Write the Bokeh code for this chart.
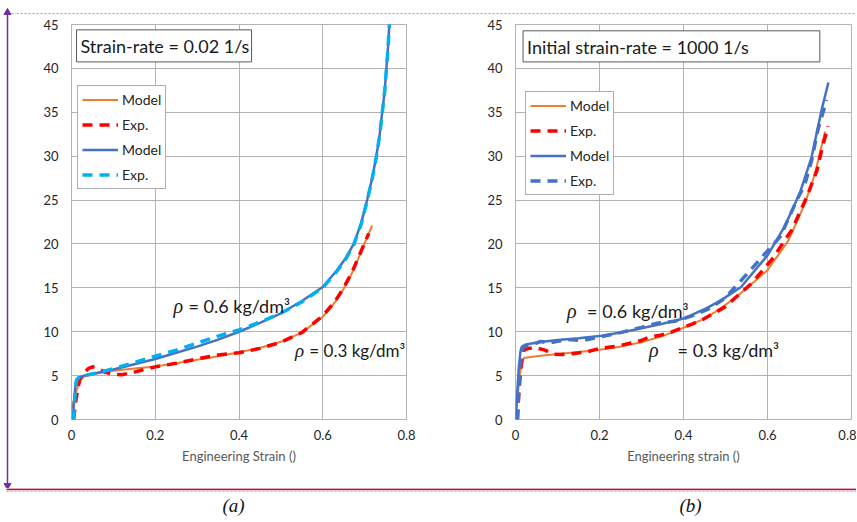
from bokeh.plotting import figure
from bokeh.models import Range1d, FixedTicker, Legend, LegendItem, Label
from bokeh.layouts import row, column
from bokeh.embed import file_html
from bokeh.resources import INLINE
from bokeh.core.properties import value

# ---------------- data ----------------
x_ticks = [0, 0.2, 0.4, 0.6, 0.8]
y_ticks = [0, 5, 10, 15, 20, 25, 30, 35, 40, 45]

# (a) strain-rate 0.02 1/s
a_model03_x = [-0.008, 0.0, 0.01, 0.021, 0.03, 0.06, 0.1, 0.15, 0.2, 0.25, 0.3, 0.35, 0.4, 0.45, 0.5,
               0.55, 0.6, 0.63, 0.65, 0.67, 0.69, 0.7, 0.71, 0.718]
a_model03_y = [0, 1.2, 3.0, 4.5, 4.9, 5.25, 5.55, 5.8, 6.05, 6.4, 6.8, 7.2, 7.65, 8.15, 8.85,
               9.9, 11.7, 13.4, 14.9, 16.7, 18.9, 20.1, 21.2, 22.1]
a_exp03_x = [0.005, 0.01, 0.015, 0.02, 0.03, 0.04, 0.05, 0.06, 0.08, 0.1, 0.12, 0.15, 0.2, 0.25, 0.3,
             0.35, 0.4, 0.45, 0.5, 0.55, 0.6, 0.63, 0.65, 0.67, 0.69, 0.7, 0.71]
a_exp03_y = [0, 2.0, 3.5, 4.6, 5.3, 5.8, 6.0, 5.9, 5.4, 5.15, 5.1, 5.4, 6.0, 6.4, 6.9,
             7.35, 7.6, 8.1, 8.8, 9.9, 11.8, 13.5, 15.0, 16.8, 19.0, 20.1, 21.2]
a_model06_x = [0.003, 0.006, 0.01, 0.015, 0.03, 0.06, 0.1, 0.15, 0.2, 0.25, 0.3, 0.35, 0.4, 0.45, 0.5,
               0.55, 0.6, 0.634, 0.655, 0.674, 0.692, 0.706, 0.718, 0.728, 0.736, 0.742, 0.748, 0.752,
               0.756, 0.759, 0.763]
a_model06_y = [0, 2.0, 4.2, 4.7, 5.0, 5.3, 5.7, 6.3, 6.9, 7.6, 8.3, 9.1, 10.0, 11.0, 12.1,
               13.5, 15.1, 17.0, 18.4, 20.0, 22.4, 25.0, 27.5, 30.0, 32.5, 35.0, 37.5, 40.0,
               42.5, 45.0, 47.0]
a_exp06_x = [0.005, 0.008, 0.012, 0.02, 0.04, 0.07, 0.1, 0.15, 0.2, 0.25, 0.3, 0.35, 0.4, 0.45, 0.5,
             0.55, 0.6, 0.634, 0.655, 0.674, 0.692, 0.706, 0.718, 0.728, 0.736, 0.742, 0.748, 0.752,
             0.756, 0.759, 0.763]
a_exp06_y = [0, 2.5, 4.5, 4.9, 5.1, 5.4, 5.8, 6.5, 7.2, 7.9, 8.7, 9.5, 10.2, 11.1, 12.1,
             13.4, 15.0, 16.9, 18.3, 19.9, 22.3, 24.9, 27.4, 29.9, 32.4, 34.9, 37.4, 39.9,
             42.4, 44.9, 47.0]

# (b) initial strain-rate 1000 1/s
b_model03_x = [0.0, 0.005, 0.01, 0.015, 0.02, 0.05, 0.1, 0.15, 0.2, 0.25, 0.3, 0.35, 0.4, 0.45, 0.49,
               0.537, 0.6, 0.65, 0.689, 0.713, 0.737]
b_model03_y = [0, 2.5, 5.0, 6.5, 7.0, 7.2, 7.45, 7.7, 7.95, 8.3, 8.8, 9.5, 10.45, 11.5, 12.7,
               14.4, 17.0, 20.4, 24.6, 28.0, 32.8]
b_exp03_x = [0.004, 0.008, 0.012, 0.016, 0.02, 0.03, 0.047, 0.07, 0.09, 0.11, 0.135, 0.17, 0.2, 0.24,
             0.27, 0.3, 0.318, 0.345, 0.374, 0.4, 0.422, 0.45, 0.498, 0.562, 0.61, 0.658, 0.694, 0.718,
             0.73, 0.744]
b_exp03_y = [0, 3.0, 5.5, 7.0, 7.9, 8.1, 8.2, 7.9, 7.45, 7.4, 7.5, 7.7, 8.1, 8.35,
             8.65, 9.0, 9.4, 9.6, 10.0, 10.5, 10.9, 11.5, 12.8, 15.5, 18.2, 21.6, 25.4, 28.4,
             30.9, 33.4]
b_model06_x = [0.0, 0.004, 0.008, 0.012, 0.015, 0.025, 0.055, 0.1, 0.15, 0.2, 0.25, 0.3, 0.35, 0.4,
               0.454, 0.49, 0.537, 0.6, 0.641, 0.677, 0.705, 0.729, 0.745]
b_model06_y = [0, 3.0, 6.0, 7.8, 8.3, 8.55, 8.8, 9.05, 9.25, 9.5, 9.9, 10.4, 10.9, 11.5,
               12.65, 13.6, 15.1, 18.7, 22.0, 25.8, 29.9, 35.3, 38.4]
b_exp06_x = [0.005, 0.008, 0.012, 0.016, 0.02, 0.04, 0.06, 0.08, 0.1, 0.13, 0.16, 0.2, 0.25, 0.3,
             0.34, 0.38, 0.42, 0.46, 0.498, 0.546, 0.594, 0.63, 0.67, 0.689, 0.705, 0.72, 0.741]
b_exp06_y = [0, 3.5, 6.5, 7.8, 8.3, 8.5, 8.9, 8.7, 8.9, 9.1, 9.0, 9.4, 9.9, 10.5,
             11.0, 11.2, 11.8, 12.6, 13.8, 16.3, 18.9, 20.8, 25.0, 26.8, 29.5, 33.0, 36.4]

title_a = "Strain-rate = 0.02 1/s"
title_b = "Initial strain-rate = 1000 1/s"
rho_label_06 = "= 0.6 kg/dm\u00b3"
rho_label_03 = "= 0.3 kg/dm\u00b3"
legend_labels = ["Model", "Exp.", "Model", "Exp."]
xlabel_a = "Engineering Strain ()"
xlabel_b = "Engineering strain ()"
captions = ["(a)", "(b)"]

# ---------------- style ----------------
FONT = "Lato"
ORANGE = "#ED7D31"
RED = "#FF0000"
BLUE = "#4472C4"
CYAN = "#00B0F0"
GRID = "#b3b3b3"
DASH = "10 7"
TEXT = "#1a1a1a"


def panel(width, min_left, min_right, xlabel):
    p = figure(width=width, height=472, x_range=Range1d(0, 0.8), y_range=Range1d(0, 45),
               output_backend="svg", toolbar_location=None,
               min_border_left=min_left, min_border_right=min_right,
               min_border_top=8, min_border_bottom=69)
    p.background_fill_color = "white"
    p.border_fill_color = "white"
    p.outline_line_color = GRID
    p.outline_line_width = 1
    p.xaxis.ticker = FixedTicker(ticks=x_ticks)
    p.yaxis.ticker = FixedTicker(ticks=y_ticks)
    p.xaxis.major_label_overrides = {0: "0"}
    for ax in (p.xaxis, p.yaxis):
        ax.axis_line_color = None
        ax.major_tick_line_color = None
        ax.minor_tick_line_color = None
        ax.major_tick_out = 0
        ax.major_tick_in = 0
        ax.major_label_text_font = FONT
        ax.major_label_text_font_size = "13px"
        ax.major_label_text_color = "#262626"
    p.yaxis.major_label_standoff = 13
    p.xaxis.major_label_standoff = 10
    p.xaxis.axis_label = xlabel
    p.xaxis.axis_label_text_font = FONT
    p.xaxis.axis_label_text_font_size = "13px"
    p.xaxis.axis_label_text_font_style = "normal"
    p.xaxis.axis_label_text_color = "#595959"
    p.xaxis.axis_label_standoff = 5
    p.grid.grid_line_color = GRID
    p.grid.grid_line_width = 1
    return p


def add_curves(p, series, legend_loc):
    items = []
    for (xs, ys, color, width, dash), lab in zip(series, legend_labels):
        kw = {}
        if dash:
            kw["line_dash"] = DASH
        r = p.line(xs, ys, line_color=color, line_width=width, **kw)
        items.append(LegendItem(label=lab, renderers=[r]))
    leg = Legend(items=items, location=legend_loc, border_line_color="#595959",
                 border_line_width=1, background_fill_color="white", background_fill_alpha=1,
                 label_text_font=FONT, label_text_font_size="14px", label_text_color="#262626",
                 glyph_width=36, glyph_height=19, label_height=19, label_standoff=4,
                 padding=4, spacing=6, margin=0)
    p.add_layout(leg)


def add_title_box(p, text, left, right, bottom, top, tx, ty):
    p.quad(left=[left], right=[right], bottom=[bottom], top=[top],
           fill_color="white", fill_alpha=1, line_color="#595959", line_width=1)
    p.text(x=[tx], y=[ty], text=[text], text_font=value(FONT), text_font_size="18px",
           text_baseline="middle", text_align="left", text_color=TEXT)


def add_rho(p, rx, ex, y, text, size=18):
    p.add_layout(Label(x=rx, y=y, text="\u03c1", text_font="Liberation Serif",
                       text_font_style="italic", text_font_size=f"{size + 2}px",
                       text_baseline="middle", text_align="left", text_color=TEXT))
    p.add_layout(Label(x=ex, y=y, text=text, text_font=FONT, text_font_size=f"{size}px",
                       text_baseline="middle", text_align="left", text_color=TEXT))


# ---------------- panel (a) ----------------
pa = panel(414, 55, 24, xlabel_a)
add_curves(pa, [
    (a_model03_x, a_model03_y, ORANGE, 2, False),
    (a_exp03_x, a_exp03_y, RED, 3.5, True),
    (a_model06_x, a_model06_y, BLUE, 2.5, False),
    (a_exp06_x, a_exp06_y, CYAN, 3.5, True),
], (6, 230))
add_title_box(pa, title_a, 0.012, 0.43, 40.74, 44.39, 0.0215, 42.56)
add_rho(pa, 0.2436, 0.2794, 12.9, rho_label_06)
add_rho(pa, 0.534, 0.568, 7.9, rho_label_03, size=17)

# ---------------- panel (b) ----------------
pb = panel(426, 85, 5, xlabel_b)
add_curves(pb, [
    (b_model03_x, b_model03_y, ORANGE, 2, False),
    (b_exp03_x, b_exp03_y, RED, 3.5, True),
    (b_model06_x, b_model06_y, BLUE, 2.5, False),
    (b_exp06_x, b_exp06_y, BLUE, 3.5, True),
], (10, 224))
add_title_box(pb, title_b, 0.018, 0.7246, 40.74, 44.28, 0.0275, 42.45)
add_rho(pb, 0.1226, 0.1705, 12.35, rho_label_06)
add_rho(pb, 0.318, 0.386, 7.9, rho_label_03)


# ---------------- decorative strips ----------------
def strip(w, h):
    s = figure(width=w, height=h, x_range=Range1d(0, w), y_range=Range1d(h, 0),
               x_axis_location=None, y_axis_location=None, min_border=0,
               output_backend="svg", toolbar_location=None)
    s.outline_line_color = None
    s.background_fill_color = "white"
    s.border_fill_color = "white"
    s.grid.grid_line_color = None
    return s


left = strip(16, 488)
left.segment(x0=[7], y0=[13], x1=[16], y1=[13], line_color="#e07890", line_width=1, line_dash="2 2")
left.segment(x0=[7], y0=[13], x1=[7], y1=[484], line_color="#7030A0", line_width=1.5)
left.scatter(x=[7, 7], y=[12, 485], marker=["triangle", "inverted_triangle"], size=7,
             fill_color="#7030A0", line_color="#7030A0")

top = strip(840, 16)
top.segment(x0=[0], y0=[13], x1=[840], y1=[13], line_color="#e07890", line_width=1, line_dash="2 2")

bottom = strip(856, 33)
bottom.segment(x0=[6], y0=[0.8], x1=[856], y1=[0.8], line_color="#b3123e", line_width=2)
bottom.segment(x0=[6], y0=[3], x1=[856], y1=[3], line_color="#e6a0b0", line_width=1, line_dash="2 2")
bottom.text(x=[233, 690], y=[17, 17], text=captions, text_font=value("Liberation Serif"),
            text_font_style="italic", text_font_size="19px", text_align="center",
            text_baseline="middle", text_color="#111111")

layout = column(row(left, column(top, row(pa, pb))), bottom)

open("out.html", "w").write(file_html(layout, INLINE))
